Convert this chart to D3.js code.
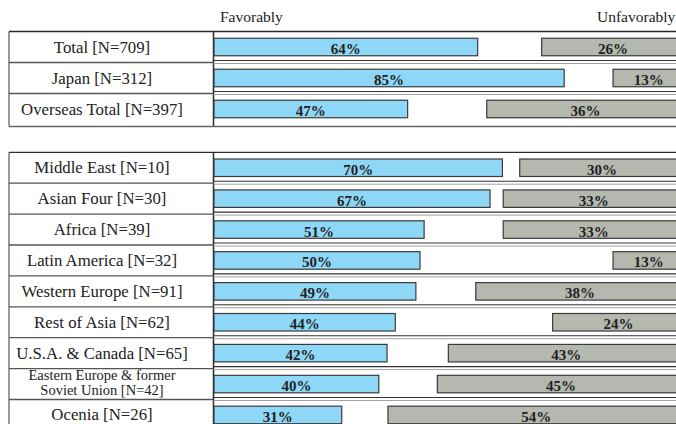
<!DOCTYPE html>
<html>
<head>
<meta charset="utf-8">
<script src="https://cdn.jsdelivr.net/npm/d3@7"></script>
<style>
  html, body { margin: 0; padding: 0; background: #fff; }
  svg { display: block; }
  text { font-family: "Liberation Serif", "DejaVu Serif", serif; fill: #222; }
</style>
</head>
<body>
<svg id="chart" width="676" height="424"></svg>
<script>
// Survey results: share answering favorably / unfavorably, by respondent group
const summaryGroups = ["Total [N=709]", "Japan [N=312]", "Overseas Total [N=397]"];
const summaryFavorable = [64, 85, 47];
const summaryUnfavorable = [26, 13, 36];

const regionGroups = [
  "Middle East [N=10]",
  "Asian Four [N=30]",
  "Africa [N=39]",
  "Latin America [N=32]",
  "Western Europe [N=91]",
  "Rest of Asia [N=62]",
  "U.S.A. & Canada [N=65]",
  "Eastern Europe & former\nSoviet Union [N=42]",
  "Ocenia [N=26]"
];
const regionFavorable = [70, 67, 51, 50, 49, 44, 42, 40, 31];
const regionUnfavorable = [30, 33, 33, 13, 38, 24, 43, 45, 54];

const headers = ["Favorably", "Unfavorably"];

const svg = d3.select("#chart");
const W = 676;
const tableLeft = 9, labelRight = 213.5;
const labelCenter = 102;
const barH = 17.5;

// favorable bars grow rightwards from the label column,
// unfavorable bars grow leftwards from the right edge
const xFav = d3.scaleLinear().domain([0, 100]).range([214, 626]);
const xUnf = d3.scaleLinear().domain([0, 100]).range([684.4, 135.4]);

const favFill = "#8ed7f6", unfFill = "#b5b8ae", barStroke = "#3a3a3a";

// column headers
svg.append("text").attr("x", 220).attr("y", 22)
  .attr("font-size", 15.5).text(headers[0]);
svg.append("text").attr("x", 597).attr("y", 22)
  .attr("font-size", 15.5).text(headers[1]);

function drawBlock(names, fav, unf, range, bottomExtra) {
  const y = d3.scaleBand().domain(names).range(range).padding(0);
  const g = svg.append("g");
  const top = range[0], bottom = range[1] + bottomExtra;

  // left border and column divider
  g.append("line").attr("x1", tableLeft).attr("x2", tableLeft)
    .attr("y1", top).attr("y2", bottom)
    .attr("stroke", "#777").attr("stroke-width", 1.5);
  g.append("line").attr("x1", labelRight).attr("x2", labelRight)
    .attr("y1", top).attr("y2", bottom)
    .attr("stroke", "#2a2a2a").attr("stroke-width", 1.5);

  // top rule
  g.append("line").attr("x1", tableLeft).attr("x2", W)
    .attr("y1", top).attr("y2", top)
    .attr("stroke", "#2a2a2a").attr("stroke-width", 1.3);

  // row separators (with a faint double rule across the bar area)
  names.slice(1).forEach(n => {
    const yy = y(n);
    g.append("line").attr("x1", tableLeft).attr("x2", labelRight)
      .attr("y1", yy).attr("y2", yy)
      .attr("stroke", "#555").attr("stroke-width", 1.3);
    g.append("line").attr("x1", labelRight).attr("x2", W)
      .attr("y1", yy - 2).attr("y2", yy - 2)
      .attr("stroke", "#333").attr("stroke-width", 1.1);
    g.append("line").attr("x1", labelRight).attr("x2", W)
      .attr("y1", yy + 1).attr("y2", yy + 1)
      .attr("stroke", "#999").attr("stroke-width", 0.9);
  });

  // bottom rule
  g.append("line").attr("x1", tableLeft).attr("x2", W)
    .attr("y1", bottom).attr("y2", bottom)
    .attr("stroke", "#666").attr("stroke-width", 1.5);

  const rows = names.map((n, i) => ({ name: n, fav: fav[i], unf: unf[i] }));

  // row labels
  rows.forEach(r => {
    const cy = y(r.name) + y.bandwidth() / 2;
    const parts = r.name.split("\n");
    if (parts.length === 1) {
      g.append("text").attr("x", labelCenter).attr("y", cy + 5.5)
        .attr("text-anchor", "middle").attr("font-size", 16.8).text(r.name);
    } else {
      parts.forEach((p, k) => {
        g.append("text").attr("x", labelCenter)
          .attr("y", cy - 4.5 + k * 15)
          .attr("text-anchor", "middle").attr("font-size", 14.5).text(p);
      });
    }
  });

  // favorable bars
  g.selectAll(".fav").data(rows).join("rect")
    .attr("x", xFav(0))
    .attr("y", d => y(d.name) + y.bandwidth() / 2 - barH / 2)
    .attr("width", d => xFav(d.fav) - xFav(0))
    .attr("height", barH)
    .attr("fill", favFill).attr("stroke", barStroke).attr("stroke-width", 1.2);

  // unfavorable bars
  g.selectAll(".unf").data(rows).join("rect")
    .attr("x", d => xUnf(d.unf))
    .attr("y", d => y(d.name) + y.bandwidth() / 2 - barH / 2)
    .attr("width", d => xUnf(0) - xUnf(d.unf))
    .attr("height", barH)
    .attr("fill", unfFill).attr("stroke", barStroke).attr("stroke-width", 1.2);

  // value labels centred in each bar
  g.selectAll(".favLbl").data(rows).join("text")
    .attr("x", d => (xFav(0) + xFav(d.fav)) / 2)
    .attr("y", d => y(d.name) + y.bandwidth() / 2 + 7)
    .attr("text-anchor", "middle").attr("font-size", 15).attr("font-weight", "bold")
    .text(d => d.fav + "%");
  g.selectAll(".unfLbl").data(rows).join("text")
    .attr("x", d => (xUnf(d.unf) + xUnf(0)) / 2)
    .attr("y", d => y(d.name) + y.bandwidth() / 2 + 7)
    .attr("text-anchor", "middle").attr("font-size", 15).attr("font-weight", "bold")
    .text(d => d.unf + "%");
}

drawBlock(summaryGroups, summaryFavorable, summaryUnfavorable, [31.5, 124.5], 2);
drawBlock(regionGroups, regionFavorable, regionUnfavorable, [152.3, 430.4], 0);
</script>
</body>
</html>
